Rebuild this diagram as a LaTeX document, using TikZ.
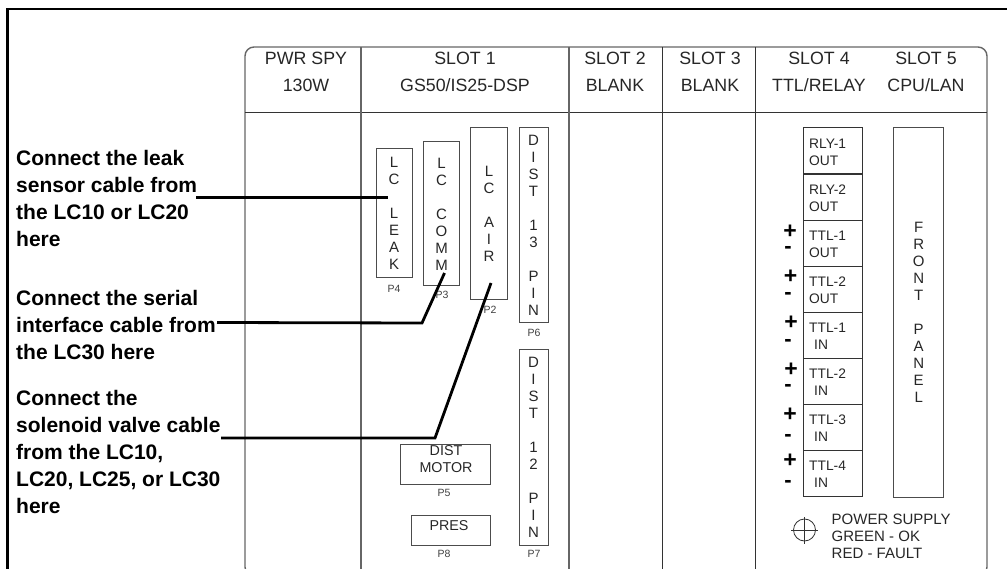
\documentclass[tikz,border=0pt]{standalone}
\usepackage{fontspec}
\setmainfont{Liberation Sans}
\tikzset{
	header/.style={align=center, inner sep=0pt, text=black!85, font=\fontsize{17.8}{27}\selectfont},
	callout/.style={align=left, anchor=north west, inner sep=0pt, font=\bfseries\fontsize{21}{27}\selectfont},
	portbox/.style={draw=black!70, line width=1pt, inner sep=0pt, align=center, text=black!85, font=\fontsize{15}{17}\selectfont},
	cellbox/.style={draw=black!80, line width=1pt, minimum width=59pt, minimum height=46.1pt, inner sep=0pt},
	celltext/.style={align=left, anchor=west, inner sep=0pt, text=black!85, font=\fontsize{13.8}{17}\selectfont},
	tag/.style={inner sep=0pt, text=black!75, font=\fontsize{10.5}{12}\selectfont},
	plus/.style={inner sep=0pt, font=\bfseries\fontsize{23}{23}\selectfont},
	minus/.style={inner sep=0pt, font=\bfseries\fontsize{22}{22}\selectfont},
	leader/.style={line width=2.8pt, line join=miter},
}
\begin{document}
\begin{tikzpicture}[x=1pt,y=-1pt]
			\useasboundingbox (0,0) rectangle (1007,569);
			\draw[line width=2.6pt] (1010,9)--(7.5,9)--(7.5,575);
			\draw[black!60, line width=1.4pt, rounded corners=9pt] (245,47) rectangle (987,576);
			\draw[black!80, line width=1pt] (245,112.5)--(987,112.5);
			\draw[black!60, line width=1.2pt] (361,47)--(361,575);
			\draw[black!60, line width=1.2pt] (569,47)--(569,575);
			\draw[black!80, line width=1pt] (662.5,47)--(662.5,575);
			\draw[black!80, line width=1pt] (755.5,47)--(755.5,575);

			\node[header] (pwr) at (306,72) {PWR SPY\\130W};
			\node[header] (slotone) at (465,72) {SLOT 1\\GS50/IS25-DSP};
			\node[header] (slottwo) at (615,72) {SLOT 2\\BLANK};
			\node[header] (slotthree) at (710,72) {SLOT 3\\BLANK};
			\node[header] (slotfour) at (819,72) {SLOT 4\\TTL/RELAY};
			\node[header] (slotfive) at (926,72) {SLOT 5\\CPU/LAN};

			\node[callout] (leaktext) at (16,150) {Connect the leak\\sensor cable from\\the LC10 or LC20\\here};
			\node[callout] (serialtext) at (16,290.5) {Connect the serial\\interface cable from\\the LC30 here};
			\node[callout] (valvetext) at (16,390) {Connect the\\solenoid valve cable\\from the LC10,\\LC20, LC25, or LC30\\here};

			\node[portbox, minimum width=36pt, minimum height=129pt] (leak) at (394,213.5) {L\\C\\ \\L\\E\\A\\K};
			\node[portbox, minimum width=36pt, minimum height=144pt] (comm) at (441.5,214) {L\\C\\ \\C\\O\\M\\M};
			\node[portbox, minimum width=36.5pt, minimum height=172pt] (air) at (489,214) {L\\C\\ \\A\\I\\R};
			\node[portbox, minimum width=29pt, minimum height=195pt] (distthirteen) at (533.5,225.5) {D\\I\\S\\T\\ \\1\\3\\ \\P\\I\\N};
			\node[portbox, minimum width=29pt, minimum height=195pt] (disttwelve) at (533.5,447.5) {D\\I\\S\\T\\ \\1\\2\\ \\P\\I\\N};
			\node[portbox, minimum width=90pt, minimum height=40pt] (motor) at (445,464) {};
			\node[portbox, minimum width=79pt, minimum height=30pt] (pres) at (450.5,530) {};
			\node[portbox, font=\fontsize{14.3}{17}\selectfont] (motortext) at (446,459) [draw=none] {DIST\\MOTOR};
			\node[portbox, font=\fontsize{14.3}{17}\selectfont] (prestext) at (449,526) [draw=none] {PRES};

			\node[tag] (pfour) at (394,289) {P4};
			\node[tag] (pthree) at (442,295) {P3};
			\node[tag] (ptwo) at (490,310) {P2};
			\node[tag] (psix) at (534,333) {P6};
			\node[tag] (pfive) at (444,493) {P5};
			\node[tag] (peight) at (444,554) {P8};
			\node[tag] (pseven) at (534,554) {P7};

			\node[cellbox] (rlyone) at (832.5,151) {};
			\node[cellbox] (rlytwo) at (832.5,197) {};
			\node[cellbox] (ttloneout) at (832.5,243.1) {};
			\node[cellbox] (ttltwoout) at (832.5,289.2) {};
			\node[cellbox] (ttlonein) at (832.5,335.3) {};
			\node[cellbox] (ttltwoin) at (832.5,381.4) {};
			\node[cellbox] (ttlthreein) at (832.5,427.5) {};
			\node[cellbox] (ttlfourin) at (832.5,473.6) {};

			\node[celltext] (rlyonetext) at (809,152) {RLY-1\\OUT};
			\node[celltext] (rlytwotext) at (809,198) {RLY-2\\OUT};
			\node[celltext] (ttloneouttext) at (809,244) {TTL-1\\OUT};
			\node[celltext] (ttltwoouttext) at (809,290) {TTL-2\\OUT};
			\node[celltext] (ttlonetext) at (809,336) {TTL-1\\\hspace*{5pt}IN};
			\node[celltext] (ttltwotext) at (809,382) {TTL-2\\\hspace*{5pt}IN};
			\node[celltext] (ttlthreetext) at (809,428) {TTL-3\\\hspace*{5pt}IN};
			\node[celltext] (ttlfourtext) at (809,474) {TTL-4\\\hspace*{5pt}IN};

			\node[plus] (plusa) at (790,232) {+};
			\node[minus] (minusa) at (788,250) {-};
			\node[plus] (plusb) at (790.5,277) {+};
			\node[minus] (minusb) at (788,296) {-};
			\node[plus] (plusc) at (791,323) {+};
			\node[minus] (minusc) at (788,343) {-};
			\node[plus] (plusd) at (791,370) {+};
			\node[minus] (minusd) at (788,388) {-};
			\node[plus] (pluse) at (790,415) {+};
			\node[minus] (minuse) at (788,438) {-};
			\node[plus] (plusf) at (790,461) {+};
			\node[minus] (minusf) at (788,484) {-};

			\node[portbox, minimum width=50.5pt, minimum height=369pt] (front) at (918.7,312.5) {F\\R\\O\\N\\T\\ \\P\\A\\N\\E\\L};

			\node[circle, draw=black!80, line width=0.8pt, minimum size=22pt, inner sep=0pt] (led) at (804.5,530) {};
			\draw[black!80, line width=0.6pt] (791,530)--(818,530);
			\draw[black!80, line width=0.6pt] (804.5,517)--(804.5,544);
			\node[celltext, font=\fontsize{15}{17}\selectfont] (ledtext) at (831.5,536) {POWER SUPPLY\\GREEN - OK\\RED - FAULT};

			\coordinate (leakstart) at (196,197.5);
			\coordinate (leakend) at (388,197.5);
			\coordinate (serialstart) at (217,322.5);
			\coordinate (serialbend) at (422,323);
			\coordinate (serialend) at (444.5,273);
			\coordinate (valvestart) at (221,438);
			\coordinate (valvebend) at (435,438);
			\coordinate (valveend) at (491,283);
			\draw[leader] (leakstart)--(leakend);
			\draw[leader] (serialstart)--(serialbend)--(serialend);
			\draw[leader] (valvestart)--(valvebend)--(valveend);
			\end{tikzpicture}
\end{document}
